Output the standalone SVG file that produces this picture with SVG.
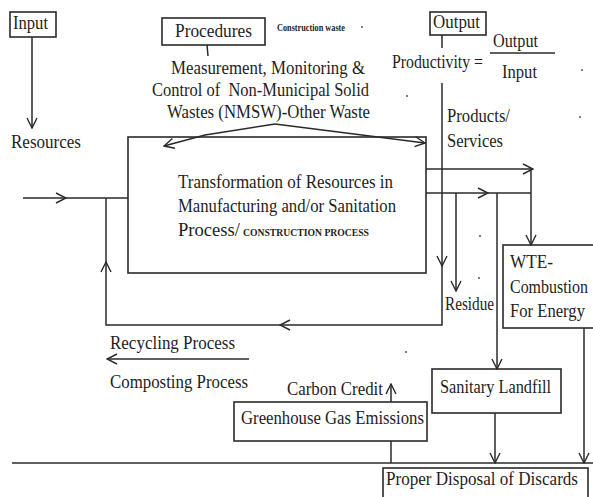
<svg xmlns="http://www.w3.org/2000/svg" width="593" height="497" viewBox="0 0 593 497">
<style>
text{font-family:"Liberation Serif","Times New Roman",serif;font-size:19px;fill:#1e1e1e}
.b{fill:none;stroke:#2a2a2a;stroke-width:1.6}
.l{fill:none;stroke:#2a2a2a;stroke-width:1.5}
.sm{font-size:10px;font-weight:bold}
.s18{font-size:18px}
</style>
<defs>
<marker id="a" viewBox="0 0 12 12" refX="11" refY="6" markerWidth="12" markerHeight="12" markerUnits="userSpaceOnUse" orient="auto">
<path d="M1,1 L11,6 L1,11" fill="none" stroke="#2a2a2a" stroke-width="1.4"/>
</marker>
</defs>
<rect width="593" height="497" fill="#fff"/>

<g id="input">
<rect class="b" x="10" y="12" width="46" height="25"/>
<text x="13" y="29" textLength="35" lengthAdjust="spacingAndGlyphs">Input</text>
</g>
<g id="resources">
<text x="11" y="148" textLength="70" lengthAdjust="spacingAndGlyphs">Resources</text>
</g>
<g id="procedures">
<rect class="b" x="162" y="18" width="103" height="27"/>
<text x="175" y="37" textLength="77" lengthAdjust="spacingAndGlyphs">Procedures</text>
<text class="sm" x="277" y="31" textLength="68" lengthAdjust="spacingAndGlyphs">Construction waste</text>
</g>
<g id="measurement">
<text x="171" y="74" textLength="194" lengthAdjust="spacingAndGlyphs">Measurement, Monitoring &amp;</text>
<text x="152" y="96" textLength="217" lengthAdjust="spacingAndGlyphs" xml:space="preserve">Control of  Non-Municipal Solid</text>
<text x="167" y="118" textLength="203" lengthAdjust="spacingAndGlyphs">Wastes (NMSW)-Other Waste</text>
</g>
<g id="output">
<rect class="b" x="430" y="12" width="56" height="23"/>
<text x="433" y="28" textLength="47" lengthAdjust="spacingAndGlyphs">Output</text>
</g>
<g id="productivity">
<text x="392" y="68" textLength="91" lengthAdjust="spacingAndGlyphs">Productivity =</text>
<text x="493" y="47" textLength="45" lengthAdjust="spacingAndGlyphs">Output</text>
<line class="l" x1="490" y1="53" x2="555" y2="53"/>
<text x="502" y="78" textLength="35" lengthAdjust="spacingAndGlyphs">Input</text>
</g>
<g id="transformation">
<rect class="b" x="128" y="137" width="298" height="136"/>
<text x="178" y="188" textLength="215" lengthAdjust="spacingAndGlyphs">Transformation of Resources in</text>
<text x="178" y="212" textLength="218" lengthAdjust="spacingAndGlyphs">Manufacturing and/or Sanitation</text>
<text x="178" y="236" textLength="62" lengthAdjust="spacingAndGlyphs">Process/</text>
<text class="sm" x="243" y="236" textLength="126" lengthAdjust="spacingAndGlyphs">CONSTRUCTION PROCESS</text>
</g>
<g id="products">
<text x="447" y="122" textLength="63" lengthAdjust="spacingAndGlyphs">Products/</text>
<text x="447" y="147" textLength="56" lengthAdjust="spacingAndGlyphs">Services</text>
</g>
<g id="residue">
<text x="445" y="310" textLength="49" lengthAdjust="spacingAndGlyphs">Residue</text>
</g>
<g id="wte">
<rect class="b" x="503" y="245" width="100" height="83"/>
<text class="s18" x="510" y="268" textLength="43" lengthAdjust="spacingAndGlyphs">WTE-</text>
<text class="s18" x="510" y="293" textLength="78" lengthAdjust="spacingAndGlyphs">Combustion</text>
<text class="s18" x="510" y="317" textLength="75" lengthAdjust="spacingAndGlyphs">For Energy</text>
</g>
<g id="recycling">
<text x="110" y="349" textLength="125" lengthAdjust="spacingAndGlyphs">Recycling Process</text>
<text x="110" y="388" textLength="138" lengthAdjust="spacingAndGlyphs">Composting Process</text>
</g>
<g id="landfill">
<rect class="b" x="432" y="369" width="129" height="44"/>
<text x="440" y="393" textLength="111" lengthAdjust="spacingAndGlyphs">Sanitary Landfill</text>
</g>
<g id="ghg">
<rect class="b" x="234" y="402" width="193" height="39"/>
<text x="241" y="424" textLength="183" lengthAdjust="spacingAndGlyphs">Greenhouse Gas Emissions</text>
<text x="287" y="395" textLength="96" lengthAdjust="spacingAndGlyphs">Carbon Credit</text>
</g>
<g id="disposal">
<rect class="b" x="383" y="468" width="205" height="40"/>
<text class="s18" x="386" y="485" textLength="192" lengthAdjust="spacingAndGlyphs">Proper Disposal of Discards</text>
</g>

<g id="connectors">
<line class="l" x1="32" y1="37" x2="32" y2="128" marker-end="url(#a)"/>
<line class="l" x1="207" y1="45" x2="208" y2="56"/>
<line class="l" x1="442" y1="35" x2="442" y2="48"/>
<polyline class="l" points="275,124 205,135 164,146" marker-end="url(#a)"/>
<line class="l" x1="275" y1="124" x2="425" y2="143" marker-end="url(#a)"/>
<line class="l" x1="23" y1="198" x2="66" y2="198" marker-end="url(#a)"/>
<line class="l" x1="66" y1="198" x2="128" y2="198"/>
<line class="l" x1="442" y1="83" x2="442" y2="266" marker-end="url(#a)"/>
<polyline class="l" points="442,266 442,325 280,325" marker-end="url(#a)"/>
<polyline class="l" points="280,325 106,325 106,262" marker-end="url(#a)"/>
<line class="l" x1="106" y1="262" x2="106" y2="198"/>
<line class="l" x1="426" y1="169" x2="533" y2="169" marker-end="url(#a)"/>
<line class="l" x1="531" y1="169" x2="531" y2="245" marker-end="url(#a)"/>
<line class="l" x1="426" y1="193" x2="488" y2="193" marker-end="url(#a)"/>
<line class="l" x1="488" y1="193" x2="531" y2="193"/>
<line class="l" x1="456" y1="193" x2="456" y2="291" marker-end="url(#a)"/>
<line class="l" x1="497" y1="193" x2="497" y2="369" marker-end="url(#a)"/>
<line class="l" x1="584" y1="328" x2="584" y2="463" marker-end="url(#a)"/>
<line class="l" x1="495" y1="413" x2="495" y2="463" marker-end="url(#a)"/>
<line class="l" x1="12" y1="463" x2="593" y2="463"/>
<line class="l" x1="391" y1="441" x2="391" y2="463"/>
<line class="l" x1="391" y1="402" x2="391" y2="384" marker-end="url(#a)"/>
<line class="l" x1="249" y1="359" x2="107" y2="359" marker-end="url(#a)"/>
</g>

<g id="specks" fill="#444">
<circle cx="362" cy="27" r="0.9"/>
<circle cx="407" cy="96" r="0.9"/>
<circle cx="582" cy="70" r="0.9"/>
<circle cx="580" cy="117" r="0.9"/>
<circle cx="480" cy="236" r="0.9"/>
<circle cx="479" cy="278" r="0.9"/>
<circle cx="406" cy="352" r="0.9"/>
</g>
</svg>
